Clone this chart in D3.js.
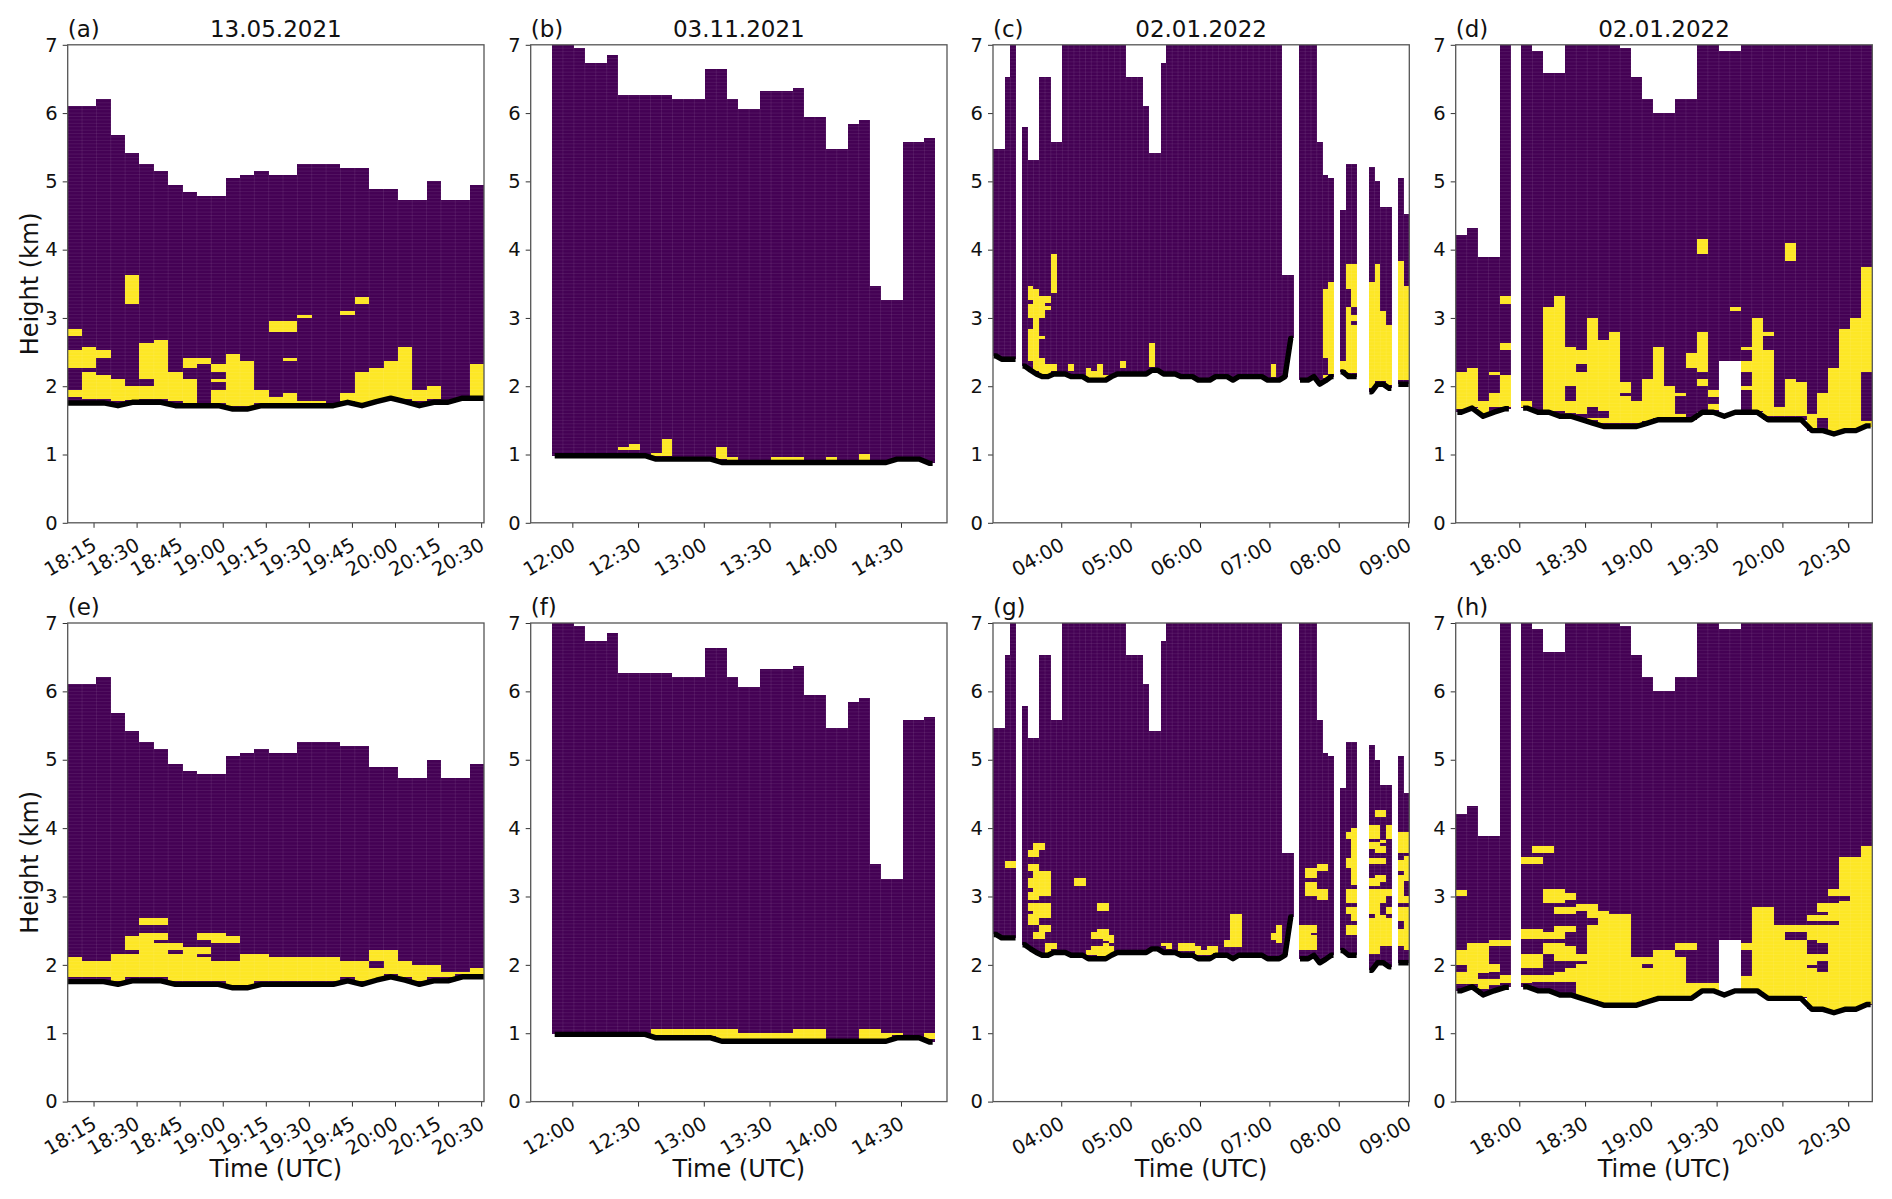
<!DOCTYPE html>
<html>
<head>
<meta charset="utf-8">
<script src="https://cdn.jsdelivr.net/npm/d3@7"></script>
<style>
  body { margin: 0; background: #fff; }
  text { font-family: "DejaVu Sans", sans-serif; fill: #111; }
</style>
</head>
<body>
<div id="canvas"></div>
<script>
// column tops (km), null = no data
var aTops = [6.11,6.11,6.21,5.68,5.42,5.26,5.15,4.94,4.84,4.79,4.79,5.05,5.10,5.15,5.10,5.10,5.26,5.26,5.26,5.20,5.20,4.89,4.89,4.73,4.73,5.00,4.73,4.73,4.94];
var bTops = [7,7,6.96,6.74,6.74,6.85,6.27,6.27,6.27,6.27,6.27,6.21,6.21,6.21,6.64,6.64,6.21,6.06,6.06,6.32,6.32,6.32,6.37,5.95,5.95,5.47,5.47,5.84,5.90,3.47,3.26,3.26,5.58,5.58,5.63];
var cTops = [5.47,5.47,6.53,7,null,5.79,5.32,5.32,6.53,6.53,5.58,5.58,7,7,7,7,7,7,7,7,7,7,7,6.53,6.53,6.53,6.11,5.42,5.42,6.74,7,7,7,7,7,7,7,7,7,7,7,7,7,7,7,7,7,7,7,7,3.63,3.63,null,7,7,7,5.58,5.10,5.05,null,4.58,5.26,5.26,null,null,5.21,5.00,4.63,4.63,null,5.05,4.52];
var dTops = [4.21,4.32,3.89,3.89,7,null,7,6.91,6.58,6.58,7,7,7,7,7,6.96,6.53,6.21,6.00,6.00,6.21,6.21,7,7,6.91,6.91,7,7,7,7,7,7,7,7,7,7,7,7];

// boundary layer line (km)
var aBl = [1.755,1.755,1.755,1.715,1.765,1.765,1.765,1.715,1.715,1.715,1.715,1.665,1.665,1.715,1.715,1.715,1.715,1.715,1.715,1.765,1.715,1.775,1.825,1.775,1.715,1.765,1.765,1.825,1.825];
var bBl = [0.983,0.983,0.983,0.983,0.983,0.983,0.983,0.983,0.983,0.933,0.933,0.933,0.933,0.933,0.933,0.883,0.883,0.883,0.883,0.883,0.883,0.883,0.883,0.883,0.883,0.883,0.883,0.883,0.883,0.883,0.883,0.933,0.933,0.933,0.87];
var cBl = [2.445,2.395,2.395,2.395,null,2.295,2.234,2.18,2.14,2.14,2.18,2.18,2.18,2.14,2.14,2.14,2.09,2.09,2.09,2.09,2.14,2.18,2.18,2.18,2.18,2.18,2.18,2.234,2.234,2.18,2.18,2.18,2.14,2.14,2.14,2.09,2.09,2.09,2.14,2.14,2.14,2.09,2.14,2.14,2.14,2.14,2.14,2.09,2.09,2.09,2.14,2.70,null,2.09,2.09,2.14,2.03,2.08,2.14,null,2.21,2.14,2.14,null,null,1.92,2.03,2.03,1.97,null,2.03,2.03];
var dBl = [1.62,1.68,1.56,1.62,1.67,null,1.68,1.62,1.62,1.56,1.56,1.51,1.46,1.41,1.41,1.41,1.41,1.46,1.51,1.51,1.51,1.51,1.62,1.62,1.56,1.62,1.62,1.62,1.51,1.51,1.51,1.51,1.35,1.35,1.30,1.35,1.35,1.42];

// columns of panel d/h whose purple stops above the line
var dBaseOver = {24: 2.37, 25: 2.37};

// yellow runs: [column, upper km, lower km]
var aYellow = [[0,1.95,1.84],[0,2.53,2.26],[0,2.84,2.74],[1,2.21,1.81],[1,2.58,2.26],[2,2.16,1.81],[2,2.53,2.42],[3,2.11,1.79],[4,2.00,1.80],[4,3.63,3.21],[5,2.00,1.81],[5,2.63,2.11],[6,2.68,1.81],[7,2.21,1.79],[8,2.11,1.76],[8,2.42,2.26],[9,2.42,2.32],[10,2.32,2.21],[10,2.11,2.06],[10,1.95,1.76],[11,2.47,1.71],[12,2.37,1.71],[13,1.95,1.76],[14,1.84,1.76],[14,2.95,2.79],[15,1.90,1.76],[15,2.95,2.79],[15,2.42,2.37],[16,1.79,1.76],[16,3.05,3.00],[17,1.79,1.76],[19,1.90,1.79],[19,3.10,3.05],[20,2.21,1.76],[20,3.31,3.21],[21,2.26,1.79],[22,2.37,1.84],[23,2.58,1.81],[24,1.95,1.79],[25,2.00,1.81],[28,2.32,1.86]];
var bYellow = [[6,1.11,1.06],[7,1.16,1.06],[9,1.02,0.98],[10,1.22,0.98],[15,1.11,0.93],[16,0.96,0.92],[20,0.96,0.92],[21,0.96,0.92],[22,0.96,0.92],[25,0.96,0.92],[28,1.01,0.92]];
var cYellow = [[6,3.47,3.27],[6,3.21,3.00],[6,2.84,2.37],[7,3.42,2.22],[8,3.32,3.00],[8,2.74,2.69],[8,2.42,2.17],[9,3.32,3.22],[9,3.17,3.11],[9,2.32,2.17],[10,3.94,3.36],[10,2.32,2.22],[13,2.32,2.22],[16,2.27,2.12],[17,2.22,2.12],[18,2.32,2.12],[19,2.17,2.12],[22,2.37,2.27],[27,2.63,2.28],[48,2.32,2.13],[57,3.42,2.42],[57,2.16,2.12],[58,3.52,2.18],[60,2.37,2.24],[61,3.79,3.42],[61,3.16,2.19],[62,3.79,3.16],[62,3.05,2.95],[62,2.89,2.19],[65,3.52,1.97],[66,3.79,2.07],[67,3.10,2.07],[68,2.89,2.02],[70,3.84,2.09],[71,3.47,2.09]];
var dYellow = [[0,2.21,1.66],[1,2.26,1.69],[2,1.79,1.61],[3,2.21,2.16],[3,1.90,1.69],[4,3.32,3.21],[4,2.63,2.53],[4,2.16,1.69],[6,1.79,1.69],[8,3.16,1.64],[9,3.32,1.64],[10,2.58,2.00],[10,1.79,1.61],[11,2.53,2.32],[11,2.21,1.59],[12,3.00,1.69],[12,1.54,1.51],[13,2.68,1.64],[13,1.54,1.46],[14,2.79,1.46],[15,2.06,1.90],[15,1.85,1.46],[16,1.79,1.46],[17,2.11,1.49],[18,2.58,1.54],[19,2.00,1.54],[20,1.90,1.85],[20,1.59,1.54],[21,2.48,2.26],[22,2.79,2.21],[22,2.11,2.00],[22,4.16,3.94],[23,1.95,1.84],[23,1.74,1.65],[25,3.16,3.10],[26,2.58,2.53],[26,2.37,2.21],[26,2.00,1.95],[27,3.00,1.64],[28,2.79,2.74],[28,2.53,1.56],[29,1.69,1.56],[30,2.11,1.56],[30,4.10,3.84],[31,2.06,1.56],[32,1.59,1.39],[33,1.90,1.54],[34,2.26,1.34],[35,2.84,1.36],[36,3.00,1.36],[37,3.74,2.21],[37,1.49,1.41]];
var eYellow = [[0,2.11,1.82],[1,2.05,1.82],[2,2.05,1.82],[3,2.16,1.77],[4,2.16,1.82],[4,2.42,2.21],[5,2.68,2.58],[5,2.47,1.82],[6,2.68,2.58],[6,2.47,2.37],[6,2.32,1.82],[7,2.32,2.21],[7,2.16,1.77],[8,2.26,1.77],[9,2.47,2.37],[9,2.26,2.16],[9,2.11,1.77],[10,2.47,2.32],[10,2.05,1.77],[11,2.42,2.32],[11,2.05,1.71],[12,2.16,1.71],[13,2.16,1.77],[14,2.11,1.77],[15,2.11,1.77],[16,2.11,1.77],[17,2.11,1.77],[18,2.11,1.77],[19,2.05,1.82],[20,2.05,1.77],[21,2.21,2.05],[21,1.95,1.77],[22,2.21,1.87],[23,2.05,1.82],[24,2.00,1.77],[25,2.00,1.82],[26,1.90,1.82],[27,1.90,1.87],[28,1.95,1.87]];
var fYellow = [[9,1.06,0.96],[10,1.06,0.96],[11,1.06,0.96],[12,1.06,0.96],[13,1.06,0.96],[14,1.06,0.96],[15,1.06,0.92],[16,1.06,0.92],[17,1.01,0.91],[18,1.01,0.91],[19,1.01,0.91],[20,1.01,0.91],[21,1.01,0.91],[22,1.06,0.91],[23,1.06,0.91],[24,1.06,0.91],[28,1.06,0.91],[29,1.06,0.91],[30,1.01,0.91],[31,1.01,0.97],[34,1.01,0.91]];
var gYellow = [[2,3.52,3.42],[3,3.52,3.42],[6,3.68,3.58],[6,3.47,3.37],[6,3.27,3.12],[6,3.06,2.95],[6,2.90,2.79],[6,2.74,2.59],[7,3.78,3.58],[7,3.47,2.95],[7,2.90,2.59],[7,2.48,2.38],[8,3.78,3.68],[8,3.37,3.01],[8,2.90,2.69],[8,2.59,2.38],[9,3.37,3.01],[9,2.90,2.69],[9,2.59,2.48],[9,2.32,2.18],[10,2.32,2.23],[14,3.27,3.16],[15,3.27,3.16],[16,2.21,2.15],[17,2.48,2.38],[17,2.28,2.15],[18,2.90,2.79],[18,2.53,2.38],[18,2.28,2.10],[19,2.90,2.79],[19,2.53,2.35],[19,2.32,2.10],[20,2.43,2.32],[20,2.28,2.16],[29,2.32,2.27],[30,2.32,2.23],[32,2.32,2.20],[33,2.32,2.20],[34,2.32,2.20],[35,2.27,2.15],[36,2.22,2.15],[37,2.27,2.15],[38,2.27,2.17],[40,2.37,2.26],[41,2.74,2.26],[42,2.74,2.26],[48,2.47,2.37],[49,2.58,2.32],[53,2.58,2.21],[54,3.42,3.27],[54,3.21,3.00],[54,2.58,2.21],[55,3.42,3.27],[55,3.21,3.00],[55,2.58,2.47],[55,2.43,2.21],[56,3.47,3.37],[56,3.11,2.95],[57,3.47,3.37],[57,3.11,2.95],[61,3.95,3.84],[61,3.57,3.42],[61,3.11,2.91],[61,2.85,2.75],[61,2.59,2.43],[62,4.00,3.17],[62,3.11,2.91],[62,2.85,2.64],[62,2.59,2.43],[65,4.05,3.84],[65,3.79,3.69],[65,3.57,3.48],[65,3.27,3.16],[65,3.11,2.75],[65,2.69,2.16],[66,4.26,4.16],[66,4.05,3.84],[66,3.79,3.64],[66,3.57,3.48],[66,3.32,3.16],[66,3.11,2.16],[67,4.26,4.16],[67,3.83,3.78],[67,3.74,3.64],[67,3.57,3.48],[67,3.32,3.21],[67,3.11,2.91],[67,2.73,2.27],[68,4.05,3.84],[68,3.11,3.00],[68,2.85,2.75],[68,2.69,2.27],[70,3.95,3.64],[70,3.53,3.37],[70,3.31,2.91],[70,2.85,2.64],[70,2.53,2.27],[71,3.95,3.64],[71,3.59,3.22],[71,3.00,2.91],[71,2.85,2.21]];
var hYellow = [[0,3.10,3.00],[0,2.21,2.00],[0,1.90,1.72],[1,2.32,1.72],[2,2.32,1.88],[2,1.79,1.65],[3,2.37,2.27],[3,2.01,1.89],[3,1.79,1.71],[4,2.37,2.27],[4,1.85,1.73],[6,3.58,3.48],[6,2.52,2.38],[6,2.16,1.95],[6,1.85,1.73],[7,3.74,3.64],[7,3.58,3.48],[7,2.52,2.38],[7,2.16,1.95],[7,1.85,1.75],[8,3.74,3.64],[8,3.11,2.91],[8,2.48,2.38],[8,2.32,2.16],[8,1.85,1.75],[9,3.11,2.91],[9,2.84,2.74],[9,2.57,2.38],[9,2.32,2.06],[9,1.89,1.75],[10,3.05,2.95],[10,2.84,2.74],[10,2.57,2.48],[10,2.27,2.06],[10,1.95,1.75],[11,2.89,2.79],[11,2.16,2.06],[11,2.01,1.53],[12,2.89,2.69],[12,2.58,1.49],[13,2.79,1.44],[14,2.74,1.42],[15,2.74,1.42],[16,2.11,1.44],[17,2.11,2.01],[17,1.95,1.48],[18,2.21,1.53],[19,2.21,1.53],[20,2.32,2.21],[20,2.11,1.55],[21,2.32,2.21],[21,1.74,1.55],[22,1.74,1.62],[23,1.74,1.62],[26,2.32,2.21],[26,1.84,1.62],[27,2.84,1.62],[28,2.84,1.53],[29,2.59,1.53],[30,2.59,2.48],[30,2.37,1.53],[31,2.59,2.48],[31,2.37,1.53],[32,2.73,2.64],[32,2.59,2.37],[32,2.16,2.00],[32,1.95,1.37],[33,2.90,2.78],[33,2.73,2.64],[33,2.59,2.32],[33,2.16,2.06],[33,1.90,1.37],[34,3.11,3.00],[34,2.90,2.64],[34,2.59,1.32],[35,3.58,3.00],[35,2.94,1.36],[36,3.58,1.36],[37,3.74,1.43]];

// ticks
var ticksA = ["18:15","18:30","18:45","19:00","19:15","19:30","19:45","20:00","20:15","20:30"];
var ticksB = ["12:00","12:30","13:00","13:30","14:00","14:30"];
var ticksC = ["04:00","05:00","06:00","07:00","08:00","09:00"];
var ticksD = ["18:00","18:30","19:00","19:30","20:00","20:30"];
var heightTicks = [0,1,2,3,4,5,6,7];
var titles = ["13.05.2021","03.11.2021","02.01.2022","02.01.2022"];
var letters = ["(a)","(b)","(c)","(d)","(e)","(f)","(g)","(h)"];

var PURPLE = "#440154", YELLOW = "#fde725";
var svgWidth = 1892, svgHeight = 1199;
var gate = 0.05, colMin = 5;

function mins(s) {
  var p = s.split(":");
  return +p[0] * 60 + +p[1];
}

// column geometry shared per figure column
var columns = [
  {left: 67.7,  right: 484,    start: mins("18:06"),      end: mins("20:31"),   ticks: ticksA, tops: aTops, bl: aBl, ext: 0.5},
  {left: 530.7, right: 947,    start: mins("11:41"),      end: mins("14:51"),   ticks: ticksB, tops: bTops, bl: bBl, ext: 0.25, first: mins("11:50") + 0.7},
  {left: 993,   right: 1409.3, start: mins("03:01"),      end: mins("09:01"),   ticks: ticksC, tops: cTops, bl: cBl, ext: 0.4},
  {left: 1455.7,right: 1872.3, start: mins("17:31"),      end: mins("20:41"),   ticks: ticksD, tops: dTops, bl: dBl, ext: 0.35, baseOver: dBaseOver}
];
var rows = [
  {top: 44.8, bottom: 522.8, yellow: [aYellow, bYellow, cYellow, dYellow]},
  {top: 623,  bottom: 1101.6, yellow: [eYellow, fYellow, gYellow, hYellow]}
];

var svg = d3.select("#canvas").append("svg").attr("width", svgWidth).attr("height", svgHeight);

rows.forEach(function(row, r) {
  columns.forEach(function(col, c) {
    drawPanel(row, col, r, c);
  });
});

function drawPanel(row, col, r, c) {
  var x = d3.scaleLinear().domain([col.start, col.end]).range([col.left, col.right]);
  var y = d3.scaleLinear().domain([0, 7]).range([row.bottom, row.top]);
  var first = col.first === undefined ? col.start : col.first;
  var t0 = function(i) { return first + i * colMin; };
  var clipId = "clip" + r + c;

  svg.append("clipPath").attr("id", clipId).append("rect")
    .attr("x", col.left).attr("y", row.top)
    .attr("width", col.right - col.left).attr("height", row.bottom - row.top);

  var g = svg.append("g");
  var plot = g.append("g").attr("clip-path", "url(#" + clipId + ")");

  var base = function(i) {
    return col.baseOver && col.baseOver[i] !== undefined ? col.baseOver[i] : col.bl[i];
  };
  var idx = d3.range(col.tops.length).filter(function(i) { return col.tops[i] !== null; });

  plot.selectAll("rect.col").data(idx).enter().append("rect")
    .attr("class", "col")
    .attr("x", function(i) { return x(t0(i)); })
    .attr("width", function(i) { return x(t0(i + 1)) - x(t0(i)); })
    .attr("y", function(i) { return y(col.tops[i]); })
    .attr("height", function(i) { return y(base(i)) - y(col.tops[i]); })
    .attr("fill", PURPLE)
    .attr("shape-rendering", "crispEdges");

  plot.selectAll("rect.yel").data(row.yellow[c]).enter().append("rect")
    .attr("class", "yel")
    .attr("x", function(d) { return x(t0(d[0])); })
    .attr("width", function(d) { return x(t0(d[0] + 1)) - x(t0(d[0])); })
    .attr("y", function(d) { return y(d[1]); })
    .attr("height", function(d) { return y(d[2]) - y(d[1]); })
    .attr("fill", YELLOW)
    .attr("shape-rendering", "crispEdges");

  // faint mesh edges, like pcolormesh with a thin edge
  var mesh = d3.path();
  idx.forEach(function(i) {
    var x0 = x(t0(i)), x1 = x(t0(i + 1));
    d3.range(Math.ceil(base(i) / gate), Math.floor(col.tops[i] / gate) + 1).forEach(function(k) {
      mesh.moveTo(x0, y(k * gate));
      mesh.lineTo(x1, y(k * gate));
    });
    mesh.moveTo(x1, y(base(i)));
    mesh.lineTo(x1, y(col.tops[i]));
  });
  plot.append("path").attr("d", mesh.toString()).attr("fill", "none")
    .attr("stroke", "#fff").attr("stroke-opacity", 0.1).attr("stroke-width", 0.8);

  // boundary line, broken at the gaps
  var pts = [];
  col.bl.forEach(function(v, i) {
    if (v === null) { pts.push(null); return; }
    var mid = t0(i) + colMin / 2;
    if (i === 0 || col.bl[i - 1] === null) pts.push([mid - col.ext * colMin, v]);
    pts.push([mid, v]);
    if (i === col.bl.length - 1 || col.bl[i + 1] === null) pts.push([mid + col.ext * colMin, v]);
  });
  var line = d3.line().defined(function(d) { return d !== null; })
    .x(function(d) { return x(d[0]); }).y(function(d) { return y(d[1]); });
  plot.append("path").datum(pts).attr("d", line).attr("fill", "none")
    .attr("stroke", "#000").attr("stroke-width", 5.4).attr("stroke-linejoin", "round");

  // axes
  var xAxis = d3.axisBottom(x).tickValues(col.ticks.map(mins)).tickSize(5).tickPadding(4)
    .tickFormat(function(d, i) { return col.ticks[i]; });
  var ax = g.append("g").attr("transform", "translate(0," + row.bottom + ")").call(xAxis);
  ax.select(".domain").remove();
  ax.selectAll("line").attr("stroke", "#333").attr("stroke-width", 1);
  ax.selectAll("text")
    .attr("font-size", 19.5).attr("text-anchor", "end")
    .attr("dx", 0).attr("dy", 0).attr("y", 0)
    .attr("transform", "translate(4,26) rotate(-30)");

  var yAxis = d3.axisLeft(y).tickValues(heightTicks).tickSize(5).tickPadding(5).tickFormat(d3.format("d"));
  var ay = g.append("g").attr("transform", "translate(" + col.left + ",0)").call(yAxis);
  ay.select(".domain").remove();
  ay.selectAll("line").attr("stroke", "#333").attr("stroke-width", 1);
  ay.selectAll("text").attr("font-size", 19.5);

  // spines
  g.append("rect").attr("x", col.left).attr("y", row.top)
    .attr("width", col.right - col.left).attr("height", row.bottom - row.top)
    .attr("fill", "none").attr("stroke", "#555").attr("stroke-width", 1.3);

  // labels
  g.append("text").attr("x", col.left).attr("y", row.top - 8)
    .attr("font-size", 23).text(letters[r * 4 + c]);
  if (r === 0) {
    g.append("text").attr("x", (col.left + col.right) / 2).attr("y", row.top - 8)
      .attr("text-anchor", "middle").attr("font-size", 23).text(titles[c]);
  }
  if (r === 1) {
    g.append("text").attr("x", (col.left + col.right) / 2).attr("y", 1177)
      .attr("text-anchor", "middle").attr("font-size", 24).text("Time (UTC)");
  }
  if (c === 0) {
    g.append("text")
      .attr("transform", "translate(38," + (row.top + row.bottom) / 2 + ") rotate(-90)")
      .attr("text-anchor", "middle").attr("font-size", 24).text("Height (km)");
  }
}
</script>
</body>
</html>
